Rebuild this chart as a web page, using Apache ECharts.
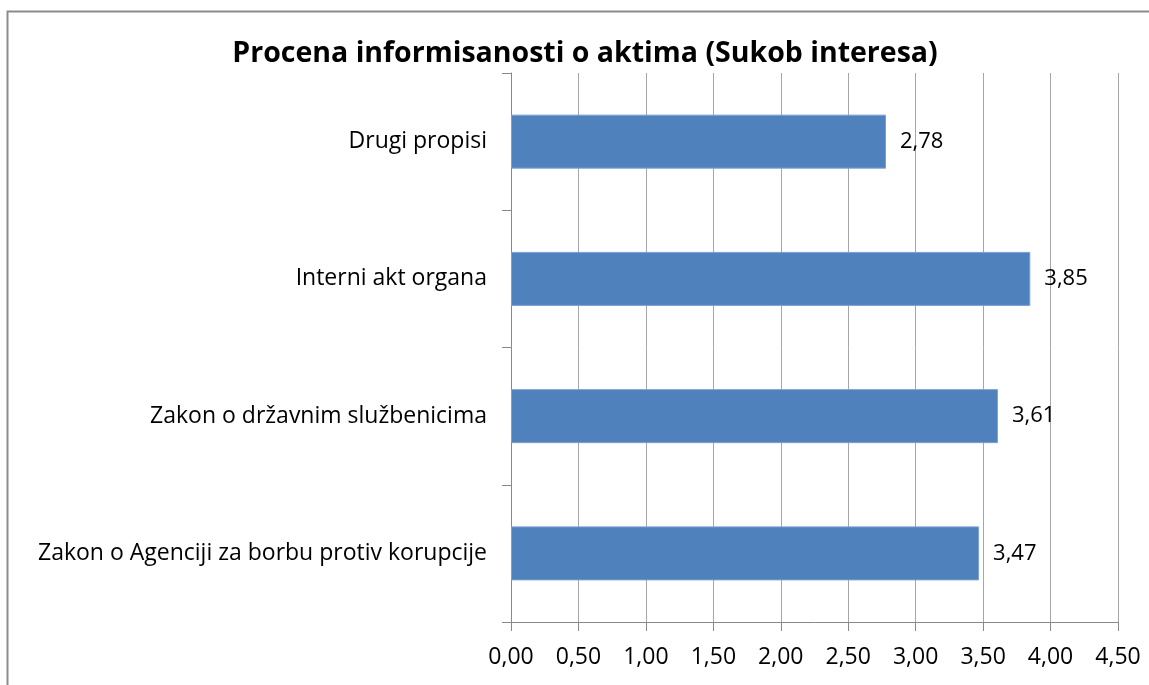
<!DOCTYPE html>
<html><head><meta charset="utf-8">
<script src="https://cdn.jsdelivr.net/npm/echarts@6/dist/echarts.min.js"></script>
<style>html,body{margin:0;padding:0;background:#fff}#c{width:1149px;height:685px}</style>
</head><body><div id="c"></div>
<script>
const titleText = 'Procena informisanosti o aktima (Sukob interesa)';
const categories = ['Zakon o Agenciji za borbu protiv korupcije','Zakon o državnim službenicima','Interni akt organa','Drugi propisi'];
const values = [3.47, 3.61, 3.85, 2.78];
const xTicks = [0, 0.5, 1, 1.5, 2, 2.5, 3, 3.5, 4, 4.5];

const fmt = v => v.toFixed(2).replace('.', ',');
const F = 'Open Sans';
const chart = echarts.init(document.getElementById('c'));
chart.setOption({
  animation: false,
  backgroundColor: '#fff',
  graphic: [{type:'rect', left:5, top:9, shape:{width:1300, height:800}, style:{fill:'none', stroke:'#8c8c8c', lineWidth:2}, silent:true}],
  title: {text: titleText, left: 580, top: 34, textAlign: 'center',
    textStyle: {fontFamily: F, fontWeight: 'bold', fontSize: 28.5, color: '#000'}},
  grid: {left: 511, right: 31, top: 73, bottom: 63},
  xAxis: {type: 'value', min: xTicks[0], max: xTicks[xTicks.length-1], interval: 0.5,
    axisLine: {show: true, lineStyle: {color: '#888'}},
    axisTick: {show: true, length: 9, lineStyle: {color: '#888'}},
    splitLine: {show: true, lineStyle: {color: '#a6a6a6', width: 1}},
    axisLabel: {formatter: fmt, fontFamily: F, fontSize: 23, color: '#000', margin: 24}},
  yAxis: {type: 'category', data: categories,
    axisLine: {show: true, lineStyle: {color: '#888'}},
    axisTick: {show: true, length: 9, lineStyle: {color: '#888'}},
    axisLabel: {fontFamily: F, fontSize: 23, color: '#000', margin: 24}},
  series: [{type: 'bar', data: values, barWidth: 54,
    itemStyle: {color: '#4F81BD', borderColor: '#7ba0d0', borderWidth: 1},
    label: {show: true, position: 'right', distance: 14, formatter: p => fmt(p.value),
      fontFamily: F, fontSize: 22, color: '#000'}}]
});
</script></body></html>
